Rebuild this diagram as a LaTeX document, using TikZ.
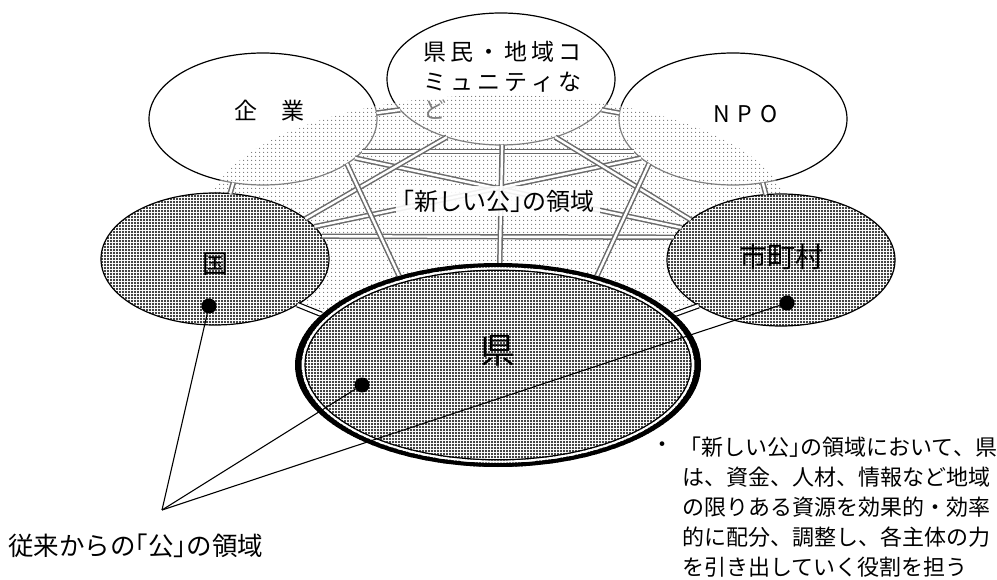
\documentclass[tikz,border=0pt]{standalone}
\usepackage{fontspec}
\newfontfamily\jp{Noto Sans CJK JP}
\newfontfamily\jph{Noto Sans CJK JP}[RawFeature=+halt]
\usetikzlibrary{shapes.geometric,patterns.meta}
\tikzdeclarepattern{name=darkdots,type=uncolored,bounding box={(-1.5pt,-1.5pt) and (1.5pt,1.5pt)},tile size={(3pt,3pt)},code={\fill (0pt,0pt) circle (1.05pt);}}
\tikzdeclarepattern{name=lightdots,type=uncolored,bounding box={(-2pt,-2pt) and (2pt,2pt)},tile size={(4pt,4pt)},code={\fill (0pt,0pt) circle (0.7pt);}}
\newcommand\fs[1]{\fontsize{#1}{#1}\selectfont}
\begin{document}
\begin{tikzpicture}[x=1pt,y=-1pt,
 ell/.style={ellipse,draw,line width=1.2pt,inner sep=0pt,outer sep=0pt,minimum width=228pt,minimum height=132pt},
 topell/.style={ell,fill=white},
 darkell/.style={ell,preaction={fill=white},pattern=darkdots,pattern color=black},
 net/.style={draw=black!58,line width=1.5pt,double=white,double distance=2.4pt},
 link/.style={draw=black,line width=1.2pt,double=white,double distance=3.2pt},
 lead/.style={line width=1.1pt},
 dotmark/.style={circle,fill=black,inner sep=0pt,minimum size=15pt},
 lab/.style={inner sep=0pt}
]
\fill[white] (0,0) rectangle (997,580);
\useasboundingbox (0,0) rectangle (997,580);
% upper ellipses
\node[topell] (K) at (263,119) {};
\node[topell] (C) at (501,79) {};
\node[topell] (N) at (733,119) {};
\node[lab,font=\jp\fs{23}] (tK) at (269.5,111) {企\kern25pt 業};
\node[lab,font=\jp\fs{23}] (tN) at (745.5,114) {N\kern8pt P\kern8pt O};
\node[lab,anchor=west,font=\jp\fs{23}] (c1) at (423,52) {県\kern4pt 民\kern4pt ・\kern4pt 地\kern4pt 域\kern4pt コ};
\node[lab,anchor=west,font=\jp\fs{23}] (c2) at (423,82) {ミ\kern4pt ュ\kern4pt ニ\kern4pt テ\kern4pt ィ\kern4pt な};
\node[lab,anchor=west,font=\jp\fs{23}] (c3) at (423,110) {ど};
% light zone
\fill[white,fill opacity=0.5] (498,215) ellipse [x radius=290pt,y radius=120pt];
\fill[pattern=lightdots,pattern color=black!55] (498,215) ellipse [x radius=290pt,y radius=120pt];
% lower ellipses
\node[darkell] (G) at (215,259) {};
\node[darkell] (S) at (781,260) {};
\coordinate (Pc) at (498,365);
% network
\draw[net] (K.3) -- (C.197);
\draw[net] (C.-17) -- (N.177);
\draw[net] (K.245) -- (G.77);
\draw[net] (N.-65) -- (S.103);
\draw[net] (K.-18) -- (N.198);
\draw[net] (G.12) -- (S.168);
\draw[net] (K.-23) -- (S.162);
\draw[net] (N.203) -- (G.18);
\draw[net] (C.227) -- (G.24);
\draw[net] (C.-47) -- (S.156);
\node[ellipse,inner sep=0pt,outer sep=0pt,minimum width=406pt,minimum height=204pt] (P) at (Pc) {};
\draw[net] (C.-89) -- (P.89);
\draw[net] (K.-28) -- (P.138);
\draw[net] (N.208) -- (P.42);
\draw[link] (G.-29) -- (P.164);
\draw[link] (S.209) -- (P.16);
% prefecture ellipse
\fill[white] (P.center) ellipse [x radius=203pt,y radius=102pt];
\fill[pattern=darkdots,pattern color=black] (P.center) ellipse [x radius=203pt,y radius=102pt];
\fill[even odd rule] (P.center) ellipse [x radius=203pt,y radius=102pt] ellipse [x radius=196.5pt,y radius=98pt];
\draw[white,line width=2pt] (P.center) ellipse [x radius=195pt,y radius=96.6pt];
\draw[line width=1.2pt] (P.center) ellipse [x radius=193pt,y radius=94.8pt];
% labels in ellipses
\node[lab,font=\jp\fs{26}] (tG) at (215,264.5) {国};
\node[lab,font=\jp\fs{28}] (tS) at (781.5,256.5) {市町村};
\node[lab,font=\jp\fs{35}] (tP) at (498,351) {県};
\node[lab,font=\jph\fs{24},fill=white,fill opacity=0.9,text opacity=1,inner xsep=6pt,inner ysep=4pt] (zone) at (498,201) {「新しい公」の領域};
% leaders
\coordinate (hub) at (162,510);
\node[dotmark] (dG) at (209,306) {};
\node[dotmark] (dP) at (362,385) {};
\node[dotmark] (dS) at (787,303) {};
\draw[lead] (hub) -- (dG);
\draw[lead] (hub) -- (dP);
\draw[lead] (hub) -- (dS);
\node[lab,anchor=west,font=\jph\fs{25.5}] (old) at (8,546) {従来からの「公」の領域};
% right text
\node[lab,font=\jp\fs{22}] (bul) at (662,447) {・};
\node[lab,anchor=west,font=\jph\fs{22}] (r1) at (690,447) {「新しい公」の領域において{\jp 、}県};
\node[lab,anchor=west,font=\jp\fs{22}] (r2) at (682,477) {は、資金、人材、情報など地域};
\node[lab,anchor=west,font=\jp\fs{22}] (r3) at (682,507) {の限りある資源を効果的・効率};
\node[lab,anchor=west,font=\jp\fs{22}] (r4) at (682,537) {的に配分、調整し、各主体の力};
\node[lab,anchor=west,font=\jp\fs{22}] (r5) at (682,567) {を引き出していく役割を担う};
\end{tikzpicture}
\end{document}
